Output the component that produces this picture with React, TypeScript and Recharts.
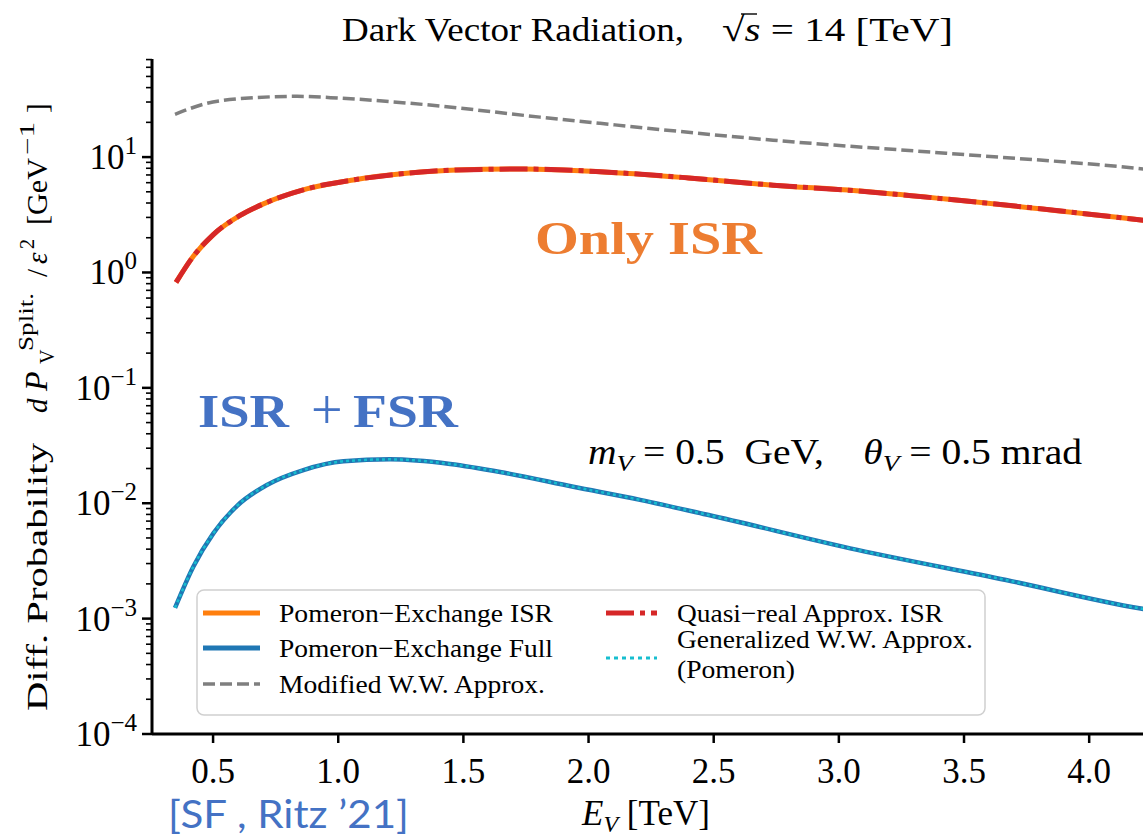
import React from 'react';
import { LineChart, Line, XAxis, YAxis } from 'recharts';

const SERIF = "'Liberation Serif', 'Times New Roman', Times, serif";
const SANS = "Lato, 'Noto Sans', sans-serif";

// ---- data (E_V in TeV, dP/eps^2 in GeV^-1) ----
const isrEnergy = [0.352, 0.421, 0.501, 0.608, 0.701, 0.874, 1.06, 1.273, 1.473, 1.739, 2.046, 2.4, 2.737, 3.07, 3.428, 4.19, 4.24];
const pomeronIsr = [0.82, 1.38, 2.13, 3.12, 3.93, 5.3, 6.34, 7.23, 7.73, 7.88, 7.47, 6.6, 5.71, 5.1, 4.33, 2.88, 2.8];
const quasiRealIsr = [0.82, 1.38, 2.13, 3.12, 3.93, 5.3, 6.34, 7.23, 7.73, 7.88, 7.47, 6.6, 5.71, 5.1, 4.33, 2.88, 2.8];

const wwEnergy = [0.348, 0.475, 0.608, 0.836, 1.007, 1.339, 1.806, 2.046, 2.737, 3.428, 4.19, 4.24];
const modifiedWW = [23.5, 29.2, 32.1, 33.6, 32.4, 28.6, 22.2, 19.6, 14.0, 10.8, 8.0, 7.8];

const fullEnergy = [0.348, 0.421, 0.501, 0.595, 0.715, 0.861, 1.021, 1.207, 1.447, 1.673, 1.939, 2.206, 2.48, 3.074, 3.668, 4.2, 4.24];
const pomeronFull = [1.24e-3, 2.82e-3, 5.48e-3, 9.46e-3, 1.44e-2, 1.94e-2, 2.31e-2, 2.4e-2, 2.19e-2, 1.82e-2, 1.39e-2, 1.07e-2, 7.9e-3, 3.94e-3, 2.16e-3, 1.23e-3, 1.19e-3];
const generalizedWW = [1.24e-3, 2.82e-3, 5.48e-3, 9.46e-3, 1.44e-2, 1.94e-2, 2.31e-2, 2.4e-2, 2.19e-2, 1.82e-2, 1.39e-2, 1.07e-2, 7.9e-3, 3.94e-3, 2.16e-3, 1.23e-3, 1.19e-3];

const xTicks = [0.5, 1.0, 1.5, 2.0, 2.5, 3.0, 3.5, 4.0];
const yMajorTicks = [1e-4, 1e-3, 1e-2, 1e-1, 1, 10];
const minorMultipliers = [2, 3, 4, 5, 6, 7, 8, 9];
const xDomain = [0.256, 4.243];
const yDomain = [1e-4, 70.8];

const yTicks: number[] = [];
yMajorTicks.forEach((m) => {
  yTicks.push(m);
  minorMultipliers.forEach((k) => {
    const v = m * k;
    if (v <= yDomain[1]) yTicks.push(v);
  });
});

const pts = (xs: number[], ys: number[]) => xs.map((e, i) => ({ e, v: ys[i] }));

const YTick = (props: any) => {
  const { x, y, payload } = props;
  const v = payload.value;
  const lg = Math.log10(v);
  const exp = Math.round(lg);
  const major = Math.abs(lg - exp) < 1e-6;
  const expLabel = exp < 0 ? '\u2212' + -exp : String(exp);
  return (
    <g>
      <line x1={x - (major ? 10 : 6)} x2={x} y1={y} y2={y} stroke="#000" strokeWidth={major ? 2.5 : 1.6} />
      {major && (
        <text x={x - 15} y={y + 12} textAnchor="end" fontFamily={SERIF} fontSize={35} fill="#000">
          10<tspan dy={-15} fontSize={25}>{expLabel}</tspan>
        </text>
      )}
    </g>
  );
};

const XTick = (props: any) => {
  const { x, y, payload } = props;
  return (
    <g>
      <line x1={x} x2={x} y1={y} y2={y + 9} stroke="#000" strokeWidth={2.5} />
      <text x={x} y={y + 49} textAnchor="middle" fontFamily={SERIF} fontSize={35} fill="#000">
        {Number(payload.value).toFixed(1)}
      </text>
    </g>
  );
};

const C_ORANGE = '#ff7f0e';
const C_RED = '#d62728';
const C_BLUE = '#1f77b4';
const C_CYAN = '#17becf';
const C_GRAY = '#7f7f7f';

const pre = { whiteSpace: 'pre' as const };

const Overlay = () => (
  <svg width={1143} height={838} style={{ position: 'absolute', left: 0, top: 0, pointerEvents: 'none' }} fontFamily={SERIF}>
    {/* title */}
    <text x={342} y={41} fontSize={34} textLength={342} lengthAdjust="spacingAndGlyphs" fill="#000">
      Dark Vector Radiation,
    </text>
    <text x={722} y={41} fontSize={34} textLength={231} lengthAdjust="spacingAndGlyphs" fill="#000" style={pre}>
      {'\u221A'}<tspan fontStyle="italic">s</tspan>{' = 14 [TeV]'}
    </text>
    <line x1={741} x2={757} y1={14} y2={14} stroke="#000" strokeWidth={1.4} />

    {/* y label */}
    <g transform="translate(47,711) rotate(-90)" fill="#000">
      <text x={0} y={0} fontSize={29} textLength={268} lengthAdjust="spacingAndGlyphs">Diff. Probability</text>
      <text x={298} y={0} fontSize={29} fontStyle="italic">d</text>
      <text x={320} y={0} fontSize={32} fontStyle="italic">P</text>
      <text x={347} y={7} fontSize={20}>V</text>
      <text x={360} y={-14} fontSize={20} textLength={58} lengthAdjust="spacingAndGlyphs">Split.</text>
      <text x={434} y={0} fontSize={29}>/</text>
      <text x={447} y={0} fontSize={29} fontStyle="italic">{'\u03B5'}</text>
      <text x={462} y={-13} fontSize={20}>2</text>
      <text x={486} y={0} fontSize={29} textLength={67} lengthAdjust="spacingAndGlyphs">[GeV</text>
      <text x={556} y={-13} fontSize={20} textLength={33} lengthAdjust="spacingAndGlyphs">{'\u22121'}</text>
      <text x={598} y={0} fontSize={29}>]</text>
    </g>

    {/* x label */}
    <text x={582} y={825} fontSize={35} fill="#000" style={pre}>
      <tspan fontStyle="italic">E</tspan>
      <tspan dy={7} fontSize={24} fontStyle="italic">V</tspan>
      <tspan dy={-7}>{' [TeV]'}</tspan>
    </text>

    {/* citation */}
    <text x={168} y={828} fontFamily={SANS} fontSize={38} fill="#4472C4" textLength={241} lengthAdjust="spacingAndGlyphs" style={pre}>
      {'[SF , Ritz \u201921]'}
    </text>

    {/* annotations */}
    <text x={535} y={254} fontSize={46} fontWeight="bold" fill="#ED7D31" textLength={227} lengthAdjust="spacingAndGlyphs">
      Only ISR
    </text>
    <text x={198} y={427} fontSize={46} fontWeight="bold" fill="#4472C4" textLength={91} lengthAdjust="spacingAndGlyphs">
      ISR
    </text>
    <text x={311} y={429} fontSize={56} fill="#4472C4" fontWeight="300">+</text>
    <text x={353} y={427} fontSize={46} fontWeight="bold" fill="#4472C4" textLength={105} lengthAdjust="spacingAndGlyphs">
      FSR
    </text>
    <text x={588} y={464} fontSize={35} fill="#000" style={pre} textLength={494} lengthAdjust="spacingAndGlyphs">
      <tspan fontStyle="italic">m</tspan>
      <tspan dy={7} fontSize={24} fontStyle="italic">V</tspan>
      <tspan dy={-7}>{' = 0.5  GeV,    '}</tspan>
      <tspan fontStyle="italic">{'\u03B8'}</tspan>
      <tspan dy={7} fontSize={24} fontStyle="italic">V</tspan>
      <tspan dy={-7}>{' = 0.5 mrad'}</tspan>
    </text>

    {/* legend */}
    <rect x={197} y={590} width={788} height={125} rx={7} ry={7} fill="#fff" fillOpacity={0.85} stroke="#d0d0d0" strokeWidth={1.5} />
    <line x1={203} x2={260} y1={613} y2={613} stroke={C_ORANGE} strokeWidth={5} />
    <text x={279} y={622} fontSize={26} textLength={274} lengthAdjust="spacingAndGlyphs">Pomeron{'\u2212'}Exchange ISR</text>
    <line x1={203} x2={260} y1={648} y2={648} stroke={C_BLUE} strokeWidth={5} />
    <text x={279} y={657} fontSize={26} textLength={274} lengthAdjust="spacingAndGlyphs">Pomeron{'\u2212'}Exchange Full</text>
    <line x1={203} x2={260} y1={684} y2={684} stroke={C_GRAY} strokeWidth={3.5} strokeDasharray="12 5" />
    <text x={279} y={693} fontSize={26} textLength={266} lengthAdjust="spacingAndGlyphs">Modified W.W. Approx.</text>
    <line x1={606} x2={657} y1={613} y2={613} stroke={C_RED} strokeWidth={5} strokeDasharray="28 6 5 6" />
    <text x={677} y={622} fontSize={26} textLength={266} lengthAdjust="spacingAndGlyphs">Quasi{'\u2212'}real Approx. ISR</text>
    <line x1={606} x2={657} y1={658} y2={658} stroke={C_CYAN} strokeWidth={3} strokeDasharray="4 4" />
    <text x={677} y={648} fontSize={25} textLength={296} lengthAdjust="spacingAndGlyphs">Generalized W.W. Approx.</text>
    <text x={677} y={678} fontSize={25} textLength={118} lengthAdjust="spacingAndGlyphs">(Pomeron)</text>
  </svg>
);

export default function App() {
  return (
    <div style={{ position: 'absolute', left: 0, top: 0, width: 1143, height: 838, overflow: 'hidden', background: '#fff' }}>
      <LineChart width={1160} height={838} margin={{ top: 59, right: 10, bottom: 0, left: 72 }}>
        <XAxis
          xAxisId="bottom"
          dataKey="e"
          type="number"
          domain={xDomain}
          ticks={xTicks}
          allowDataOverflow
          height={104}
          tickSize={0}
          tickMargin={0}
          tickLine={false}
          tick={<XTick />}
          axisLine={{ stroke: '#000', strokeWidth: 3 }}
        />
        <XAxis
          xAxisId="top"
          orientation="top"
          type="number"
          domain={xDomain}
          allowDataOverflow
          height={0}
          tick={false}
          tickLine={false}
          axisLine={{ stroke: '#000', strokeWidth: 3 }}
        />
        <YAxis
          yAxisId="left"
          type="number"
          scale="log"
          domain={yDomain}
          ticks={yTicks}
          allowDataOverflow
          width={80}
          tickSize={0}
          tickMargin={0}
          tickLine={false}
          tick={<YTick />}
          interval={0}
          axisLine={{ stroke: '#000', strokeWidth: 3 }}
        />
        <Line xAxisId="bottom" yAxisId="left" data={pts(wwEnergy, modifiedWW)} dataKey="v" type="monotone" stroke={C_GRAY} strokeWidth={3.5} strokeDasharray="12 5" dot={false} isAnimationActive={false} />
        <Line xAxisId="bottom" yAxisId="left" data={pts(isrEnergy, pomeronIsr)} dataKey="v" type="monotone" stroke={C_ORANGE} strokeWidth={5} dot={false} isAnimationActive={false} />
        <Line xAxisId="bottom" yAxisId="left" data={pts(isrEnergy, quasiRealIsr)} dataKey="v" type="monotone" stroke={C_RED} strokeWidth={5} strokeDasharray="28 6 5 6" dot={false} isAnimationActive={false} />
        <Line xAxisId="bottom" yAxisId="left" data={pts(fullEnergy, pomeronFull)} dataKey="v" type="monotone" stroke={C_BLUE} strokeWidth={4.5} dot={false} isAnimationActive={false} />
        <Line xAxisId="bottom" yAxisId="left" data={pts(fullEnergy, generalizedWW)} dataKey="v" type="monotone" stroke={C_CYAN} strokeWidth={2.5} strokeDasharray="3 3" dot={false} isAnimationActive={false} />
      </LineChart>
      <Overlay />
    </div>
  );
}
